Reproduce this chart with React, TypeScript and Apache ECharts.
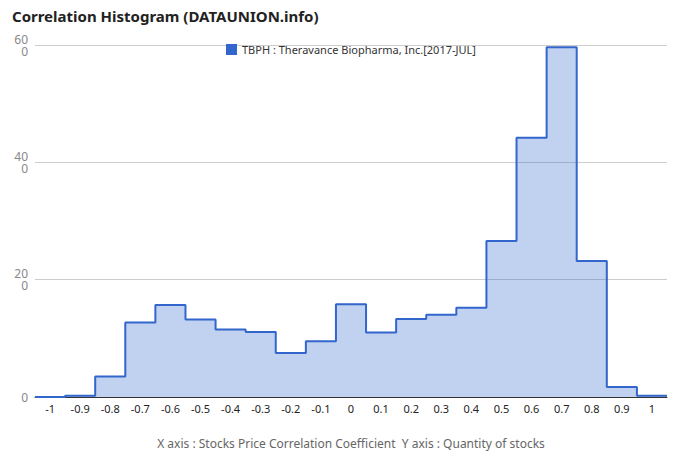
import React, { useEffect, useRef } from "react";
import * as echarts from "echarts";

const categories = ["-1", "-0.9", "-0.8", "-0.7", "-0.6", "-0.5", "-0.4", "-0.3", "-0.2", "-0.1", "0", "0.1", "0.2", "0.3", "0.4", "0.5", "0.6", "0.7", "0.8", "0.9", "1"];
const binCenters = [-1, -0.9, -0.8, -0.7, -0.6, -0.5, -0.4, -0.3, -0.2, -0.1, 0, 0.1, 0.2, 0.3, 0.4, 0.5, 0.6, 0.7, 0.8, 0.9, 1];
const counts = [0, 2, 35, 127, 157, 132, 115, 111, 75, 95, 158, 110, 133, 140, 152, 266, 442, 596, 232, 17, 2];
const binWidth = 0.1;
const seriesName = "TBPH : Theravance Biopharma, Inc.[2017-JUL]";
const yTicks = { min: 0, max: 600, interval: 200 };

export default function App() {
  const ref = useRef<HTMLDivElement>(null);
  useEffect(() => {
    document.body.style.margin = "0";
    if (!ref.current) return;
    const chart = echarts.init(ref.current, undefined, { renderer: "svg" });
    const half = binWidth / 2;
    const stepData: [number, number][] = binCenters.map((c, i) => [+(c - half).toFixed(3), counts[i]]);
    stepData.push([+(binCenters[binCenters.length - 1] + half).toFixed(3), counts[counts.length - 1]]);
    const font = "'Noto Sans', Arial, sans-serif";
    chart.setOption({
      animation: false,
      textStyle: { fontFamily: font },
      title: {
        text: "Correlation Histogram (DATAUNION.info)",
        left: 12,
        top: 8,
        padding: 0,
        textStyle: { fontSize: 15, fontWeight: "bold", color: "#222", fontFamily: font },
      },
      legend: {
        left: 226,
        top: 44,
        padding: 0,
        icon: "rect",
        itemWidth: 11,
        itemHeight: 11,
        itemGap: 5,
        textStyle: { fontSize: 11, color: "#333", fontFamily: font },
        data: [seriesName],
      },
      grid: { left: 35, right: 13, top: 45, bottom: 65 },
      xAxis: [
        {
          type: "category",
          data: categories,
          boundaryGap: true,
          axisTick: { show: false },
          axisLine: { lineStyle: { color: "#333", width: 1 } },
          axisLabel: { color: "#222", fontSize: 11, margin: 6, interval: 0 },
          name: "X axis : Stocks Price Correlation Coefficient  Y axis : Quantity of stocks",
          nameLocation: "middle",
          nameGap: 40,
          nameTextStyle: { color: "#666", fontSize: 12 },
          z: 1,
        },
        {
          type: "value",
          min: binCenters[0] - half,
          max: binCenters[binCenters.length - 1] + half,
          show: false,
        },
      ],
      yAxis: {
        type: "value",
        min: yTicks.min,
        max: yTicks.max,
        interval: yTicks.interval,
        axisLine: { show: false },
        axisTick: { show: false },
        splitLine: { lineStyle: { color: "#ccc" } },
        axisLabel: {
          color: "#888",
          fontSize: 12,
          margin: 7,
          lineHeight: 12,
          formatter: (v: number) => {
            const s = String(v);
            return s.length > 2 ? s.slice(0, 2) + "\n" + s.slice(2) : s;
          },
        },
      },
      series: [
        {
          name: seriesName,
          type: "line",
          xAxisIndex: 1,
          step: "end",
          data: stepData,
          showSymbol: false,
          symbol: "none",
          itemStyle: { color: "#3366cc" },
          lineStyle: { color: "#3366cc", width: 2 },
          areaStyle: { color: "rgba(51,102,204,0.3)", opacity: 1 },
          z: 3,
        },
      ],
    });
    return () => chart.dispose();
  }, []);
  return <div ref={ref} style={{ width: 680, height: 462 }} />;
}
